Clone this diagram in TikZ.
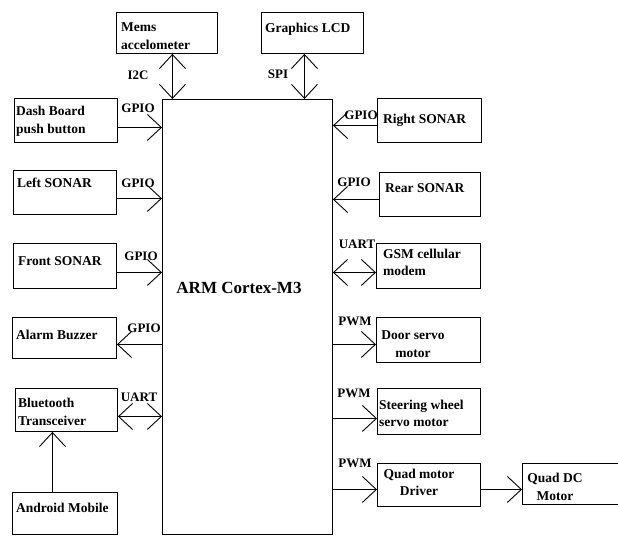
\documentclass[tikz,border=0pt]{standalone}
\usepackage{fontspec}
\setmainfont{Liberation Serif}
\usetikzlibrary{arrows.meta}
\begin{document}
\begin{tikzpicture}[x=1pt,y=-1pt,
  box/.style={draw, line width=0.9pt, inner sep=0pt, anchor=north west},
  txt/.style={inner sep=0pt, font=\fontsize{13.5}{17.5}\selectfont\bfseries, align=left, anchor=west},
  ctxt/.style={inner sep=0pt, font=\fontsize{13.5}{17.5}\selectfont\bfseries, align=center},
  lbl/.style={inner sep=0pt, font=\fontsize{13}{15}\selectfont\bfseries},
  barb/.tip={Straight Barb[length=14pt,width=26pt]},
  arr/.style={line width=0.9pt, -barb},
  barr/.style={line width=0.9pt, barb-barb}]
\clip (0,0) rectangle (618,536);
\fill[white] (0,0) rectangle (618,536);

% main controller
\node[box, minimum width=170pt, minimum height=435pt] (main) at (162,99) {};
\node[inner sep=0pt, font=\fontsize{17}{20}\selectfont\bfseries] (armtxt) at (239,288) {ARM Cortex-M3};

% boxes
\node[box, minimum width=101pt, minimum height=41pt] (mems) at (116,12) {};
\node[box, minimum width=102pt, minimum height=41pt] (lcd) at (261,12) {};
\node[box, minimum width=103pt, minimum height=44pt] (dash) at (14,98) {};
\node[box, minimum width=104pt, minimum height=44pt] (right) at (377,98) {};
\node[box, minimum width=103pt, minimum height=44pt] (left) at (13,170) {};
\node[box, minimum width=103pt, minimum height=45pt] (front) at (13,243) {};
\node[box, minimum width=104pt, minimum height=41pt] (alarm) at (12,317) {};
\node[box, minimum width=101pt, minimum height=44pt] (rear) at (379,172) {};
\node[box, minimum width=104pt, minimum height=45pt] (gsm) at (376,243) {};
\node[box, minimum width=104pt, minimum height=45pt] (door) at (376,317) {};
\node[box, minimum width=102pt, minimum height=43pt] (bt) at (15,388) {};
\node[box, minimum width=105pt, minimum height=42pt] (android) at (12,492) {};
\node[box, minimum width=103pt, minimum height=46pt] (steer) at (377,388) {};
\node[box, minimum width=103pt, minimum height=43pt] (quad) at (377,463) {};
\node[box, minimum width=108pt, minimum height=41pt] (dc) at (522,463) {};

% box texts
\node[txt] (memst) at (121,36) {Mems\\accelometer};
\node[txt] (lcdt) at (265,29) {Graphics LCD};
\node[txt] (dasht) at (16,121) {Dash Board\\push button};
\node[txt] (rightt) at (383,120) {Right SONAR};
\node[txt] (leftt) at (17,183) {Left SONAR};
\node[txt] (frontt) at (18,261) {Front SONAR};
\node[txt] (alarmt) at (16,335) {Alarm Buzzer};
\node[txt] (reart) at (385,188) {Rear SONAR};
\node[txt] (gsmt) at (383,262.5) {GSM cellular\\modem};
\node[ctxt] (doort) at (413,344) {Door servo\\motor};
\node[txt] (btt) at (18,412) {Bluetooth\\Transceiver};
\node[txt] (androidt) at (16,508) {Android Mobile};
\node[txt] (steert) at (379,413.5) {Steering wheel\\servo motor};
\node[ctxt] (quadt) at (419,482.5) {Quad motor\\Driver};
\node[ctxt] (dct) at (555,487) {Quad DC\\Motor};

% connectors
\draw[barr] ([xshift=5.5pt]mems.south) -- ([xshift=5.5pt]mems.south |- main.north);
\draw[barr] ([xshift=-8pt]lcd.south) -- ([xshift=-8pt]lcd.south |- main.north);
\draw[arr] ([yshift=-7pt]dash.east) -- ([yshift=-7pt]dash.east -| main.west);
\draw[arr] ([yshift=-5pt]right.west) -- ([yshift=-5pt]right.west -| main.east);
\draw[arr] ([yshift=-6pt]left.east) -- ([yshift=-6pt]left.east -| main.west);
\draw[arr] ([yshift=-6.5pt]front.east) -- ([yshift=-6.5pt]front.east -| main.west);
\draw[arr] ([yshift=-6.5pt]alarm.east -| main.west) -- ([yshift=-6.5pt]alarm.east);
\draw[arr] ([yshift=-5pt]rear.west) -- ([yshift=-5pt]rear.west -| main.east);
\draw[barr] ([yshift=-6.5pt]gsm.west -| main.east) -- ([yshift=-6.5pt]gsm.west);
\draw[arr] ([yshift=-4.5pt]door.west -| main.east) -- ([yshift=-4.5pt]door.west);
\draw[barr] ([yshift=-6.5pt]bt.east) -- ([yshift=-6.5pt]bt.east -| main.west);
\draw[arr] ([xshift=-12.5pt]android.north) -- ([xshift=-12.5pt]android.north |- bt.south);
\draw[arr] ([yshift=-7pt]steer.west -| main.east) -- ([yshift=-7pt]steer.west);
\draw[arr] ([yshift=-4.5pt]quad.west -| main.east) -- ([yshift=-4.5pt]quad.west);
\draw[arr] ([yshift=-5.5pt]dc.west -| quad.east) -- ([yshift=-5.5pt]dc.west);

% interface labels
\node[lbl] (l1) at (138,75) {I2C};
\node[lbl] (l2) at (278,74) {SPI};
\node[lbl] (l3) at (138,108) {GPIO};
\node[lbl] (l4) at (361,115) {GPIO};
\node[lbl] (l5) at (138,183) {GPIO};
\node[lbl] (l6) at (141,256) {GPIO};
\node[lbl] (l7) at (144,328) {GPIO};
\node[lbl] (l8) at (354,182) {GPIO};
\node[lbl] (l9) at (357,244) {UART};
\node[lbl] (l10) at (355,321) {PWM};
\node[lbl] (l11) at (139,397) {UART};
\node[lbl] (l12) at (354,393) {PWM};
\node[lbl] (l13) at (355,463) {PWM};
\end{tikzpicture}
\end{document}
